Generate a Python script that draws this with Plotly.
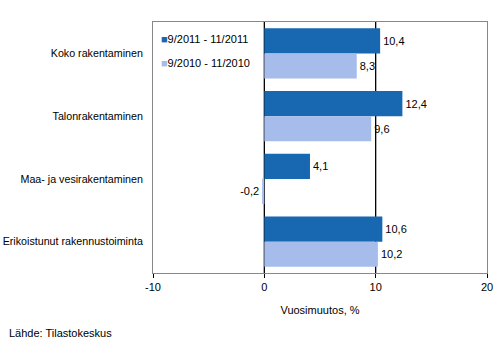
import plotly.graph_objects as go

categories = ["Koko rakentaminen", "Talonrakentaminen", "Maa- ja vesirakentaminen", "Erikoistunut rakennustoiminta"]
series_2011 = [10.4, 12.4, 4.1, 10.6]
series_2010 = [8.3, 9.6, -0.2, 10.2]
name_2011 = "9/2011 - 11/2011"
name_2010 = "9/2010 - 11/2010"
color_2011 = "#1767b1"
color_2010 = "#a6bcea"
x_ticks = [-10, 0, 10, 20]

font = dict(family="Liberation Sans, Arial, sans-serif", size=11, color="black")

def fmt(v):
    return f"{v:.1f}".replace(".", ",")

fig = go.Figure()
for vals, name, col in [(series_2011, name_2011, color_2011), (series_2010, name_2010, color_2010)]:
    fig.add_trace(go.Bar(
        y=categories, x=vals, orientation="h", name=name, showlegend=False,
        marker=dict(color=col, line=dict(width=0)),
        text=[fmt(v) for v in vals],
        textposition="outside", textfont=font, cliponaxis=False,
        hoverinfo="skip",
    ))
# legend entries: coloured square glyph + text
for i, (name, col) in enumerate([(name_2011, color_2011), (name_2010, color_2010)]):
    fig.add_trace(go.Scatter(
        x=[None], y=[None], mode="lines", line=dict(width=0, color=col),
        name=f"<span style='color:{col}'>■</span>{name}", showlegend=True,
        legendgroup=f"g{i}",
    ))

fig.update_layout(
    width=502, height=356,
    margin=dict(l=153, r=15, t=22, b=83, autoexpand=False),
    paper_bgcolor="white", plot_bgcolor="white",
    font=font,
    barmode="group", bargap=0.2, bargroupgap=0,
    separators=", ",
    showlegend=True,
    hovermode=False,
    legend=dict(x=-0.096, y=0.99, xanchor="left", yanchor="top",
                bgcolor="rgba(0,0,0,0)", font=font, traceorder="grouped",
                itemwidth=30, tracegroupgap=5, itemclick=False),
    xaxis=dict(range=[-10, 20], tickvals=x_ticks, ticktext=[str(t) for t in x_ticks],
               showgrid=False, zeroline=False, automargin=False,
               ticks="outside", ticklen=4, tickcolor="black",
               showline=True, linecolor="#888888", mirror=True, linewidth=1,
               title=dict(text="Vuosimuutos, %", font=font, standoff=14)),
    yaxis=dict(autorange="reversed", showgrid=False, zeroline=False, automargin=False,
               showline=True, linecolor="#888888", mirror=True, linewidth=1,
               ticks="", ticklabelstandoff=7,
               tickfont=dict(family="Liberation Sans, Arial, sans-serif", size=10.7, color="black")),
)

for xv in [0, 10]:
    fig.add_shape(type="line", xref="x", yref="paper", x0=xv, x1=xv, y0=0, y1=1,
                  line=dict(color="black", width=1.3), layer="below")

fig.add_annotation(text="Lähde: Tilastokeskus", xref="paper", yref="paper",
                   x=0, y=0, xshift=-146, yshift=-60, xanchor="left", yanchor="middle",
                   showarrow=False, font=font)

fig.write_html("out.html", config={"displayModeBar": False},
               post_script="document.body.style.margin='0';")
